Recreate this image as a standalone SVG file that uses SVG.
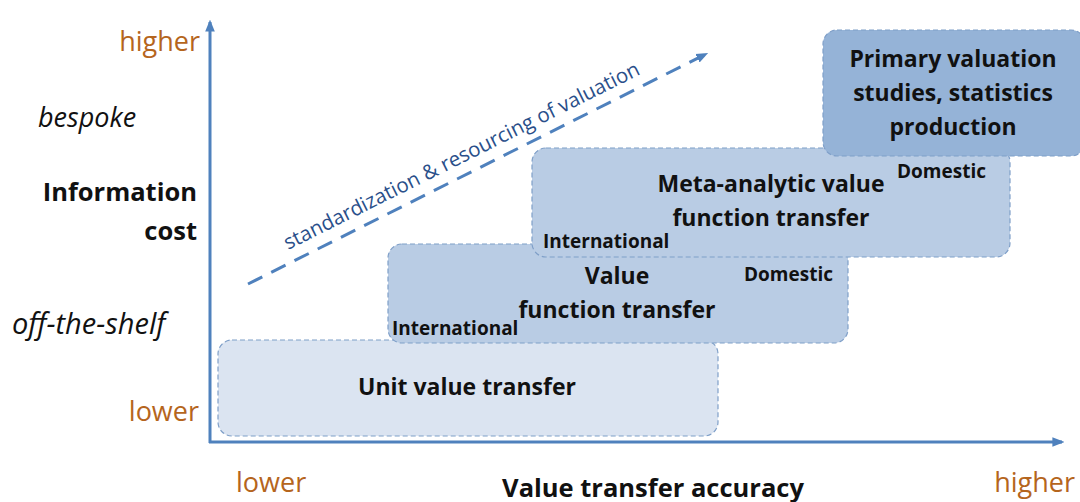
<svg xmlns="http://www.w3.org/2000/svg" width="1080" height="502" viewBox="0 0 1080 502">
<style>
text{font-family:"Open Sans","Liberation Sans",sans-serif;fill:#111}
.ax{fill:#b5651d;font-size:27px}
.it{font-style:italic;font-size:27px}
.b{font-weight:bold;font-size:25.5px}
.n{font-weight:bold;font-size:23px;text-anchor:middle}
.s{font-weight:bold;font-size:19px}
.box{stroke:#7f9fc8;stroke-width:1.2;stroke-dasharray:5 3}
.axis{stroke:#4f81bd;stroke-width:3;fill:none}
</style>
<defs>
<marker id="ah" viewBox="0 0 10 10" refX="8" refY="5" markerWidth="4" markerHeight="4" orient="auto"><path d="M0,1 L10,5 L0,9 z" fill="#4f81bd"/></marker>
</defs>
<g id="connectors">
<line class="axis" x1="210" y1="443" x2="210" y2="22" marker-end="url(#ah)"/>
<line class="axis" x1="209" y1="442" x2="1062" y2="442" marker-end="url(#ah)"/>
<line x1="248" y1="284" x2="706" y2="54" stroke="#4f81bd" stroke-width="3" stroke-dasharray="16 10" marker-end="url(#ah)"/>
<text transform="translate(288,250) rotate(-26.5)" style="font-size:20.5px;fill:#2a4f8a">standardization &amp; resourcing of valuation</text>
</g>
<g id="axis-labels">
<text class="ax" x="200" y="51" text-anchor="end">higher</text>
<text class="it" x="38" y="127">bespoke</text>
<text class="b" x="197" y="201" text-anchor="end">Information</text>
<text class="b" x="197" y="240" text-anchor="end">cost</text>
<text class="it" x="12" y="334" style="font-size:29px">off-the-shelf</text>
<text class="ax" x="199" y="421" text-anchor="end">lower</text>
<text class="ax" x="236" y="492">lower</text>
<text class="b" x="653" y="497" text-anchor="middle">Value transfer accuracy</text>
<text class="ax" x="1075" y="492" text-anchor="end">higher</text>
</g>
<g id="unit">
<rect class="box" x="218" y="340" width="500" height="96" rx="14" fill="#dbe4f1"/>
<text class="n" x="467" y="395">Unit value transfer</text>
</g>
<g id="vft">
<rect class="box" x="388" y="244" width="460" height="99" rx="14" fill="#b9cce4"/>
<text class="n" x="617" y="284">Value</text>
<text class="n" x="617" y="318">function transfer</text>
<text class="s" x="744" y="281">Domestic</text>
<text class="s" x="392" y="335">International</text>
</g>
<g id="meta">
<rect class="box" x="532" y="148" width="478" height="109" rx="14" fill="#b9cce4"/>
<text class="n" x="771" y="192">Meta-analytic value</text>
<text class="n" x="771" y="226">function transfer</text>
<text class="s" x="897" y="178">Domestic</text>
<text class="s" x="543" y="248">International</text>
</g>
<g id="primary">
<rect class="box" x="823" y="30" width="262" height="126" rx="14" fill="#95b3d7"/>
<text class="n" x="953" y="67">Primary valuation</text>
<text class="n" x="953" y="101">studies, statistics</text>
<text class="n" x="953" y="135">production</text>
</g>
</svg>
